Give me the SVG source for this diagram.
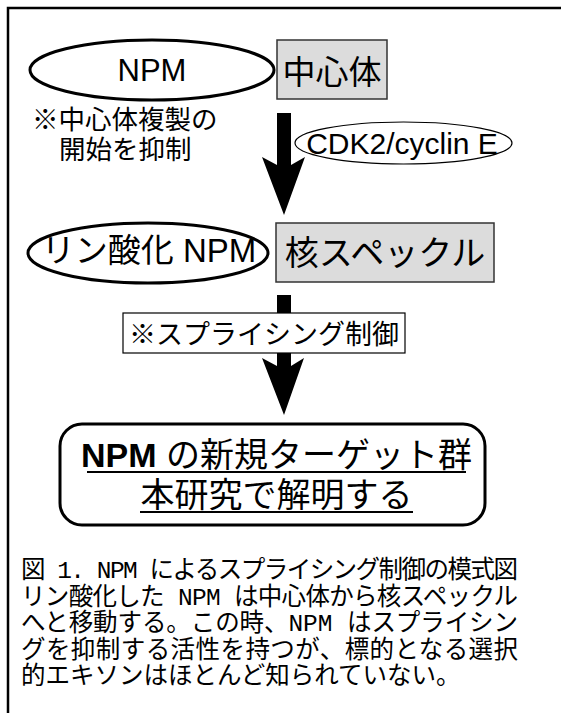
<svg xmlns="http://www.w3.org/2000/svg" width="561" height="713" viewBox="0 0 561 713">
<style>
.sans{font-family:'Liberation Sans','Noto Sans CJK JP',sans-serif;fill:#000}
.jp{font-family:'Noto Sans CJK JP','Liberation Sans',sans-serif;fill:#000}
.cap{font-family:'Liberation Mono','Noto Sans CJK JP',monospace;font-size:24.5px;fill:#000}
.gray{fill:#dcdcdc;stroke:#333;stroke-width:1.5}
.thick{fill:#fff;stroke:#000;stroke-width:3}
.thin{fill:#fff;stroke:#000;stroke-width:1.2}
.ul{stroke:#000;stroke-width:2}
</style>
<rect x="0" y="0" width="561" height="713" fill="#fff"/>
<rect x="8" y="8" width="600" height="800" fill="none" stroke="#000" stroke-width="2.5"/>

<g id="connectors">
  <path d="M277,113 H291 V165 L305,157 L284,215 L262,157 L277,165 Z" fill="#000"/>
  <path d="M277,295 H291 V366 L304,358 L284,415 L262,358 L277,366 Z" fill="#000"/>
</g>

<g id="npm">
  <ellipse class="thick" cx="152" cy="70" rx="122" ry="30"/>
  <text class="sans" x="152" y="81" font-size="31" text-anchor="middle">NPM</text>
</g>
<g id="centrosome">
  <rect class="gray" x="277" y="40" width="110" height="59"/>
  <text class="jp" x="332" y="84" font-size="33" text-anchor="middle">中心体</text>
</g>
<g id="note1">
  <text class="sans" font-size="26.5"><tspan x="32" y="129">※中心体複製の</tspan><tspan x="59" y="159">開始を抑制</tspan></text>
</g>
<g id="cdk2">
  <ellipse class="thin" cx="403.5" cy="143" rx="108.5" ry="21"/>
  <text class="sans" x="402" y="154" font-size="30" text-anchor="middle">CDK2/cyclin E</text>
</g>
<g id="pnpm">
  <ellipse class="thick" cx="148" cy="253" rx="120" ry="30"/>
  <text class="sans" x="149" y="262" font-size="33" text-anchor="middle">リン酸化 NPM</text>
</g>
<g id="speckle">
  <rect class="gray" x="276" y="223" width="218" height="59"/>
  <text class="jp" x="385" y="265" font-size="34" text-anchor="middle">核スペックル</text>
</g>
<g id="splicing">
  <rect class="thin" x="123" y="313" width="282" height="40"/>
  <text class="jp" x="264" y="344" font-size="27" text-anchor="middle">※スプライシング制御</text>
</g>
<g id="target">
  <rect class="thick" x="60" y="424" width="425" height="101" rx="22"/>
  <text class="sans" font-size="34" text-anchor="middle"><tspan x="276.5" y="467"><tspan font-weight="bold">NPM</tspan> の新規ターゲット群</tspan><tspan x="276.5" y="507">本研究で解明する</tspan></text>
  <line class="ul" x1="87" y1="472" x2="466" y2="472"/>
  <line class="ul" x1="140" y1="512" x2="413" y2="512"/>
</g>
<g id="caption">
  <text class="cap" x="21" y="578" textLength="497" lengthAdjust="spacing">図 1. NPM によるスプライシング制御の模式図</text>
  <text class="cap" x="21" y="605" textLength="497" lengthAdjust="spacing">リン酸化した NPM は中心体から核スペックル</text>
  <text class="cap" x="21" y="631" textLength="497" lengthAdjust="spacing">へと移動する。この時、NPM はスプライシン</text>
  <text class="cap" x="21" y="658" textLength="497" lengthAdjust="spacing">グを抑制する活性を持つが、標的となる選択</text>
  <text class="cap" x="21" y="684">的エキソンはほとんど知られていない。</text>
</g>
</svg>
